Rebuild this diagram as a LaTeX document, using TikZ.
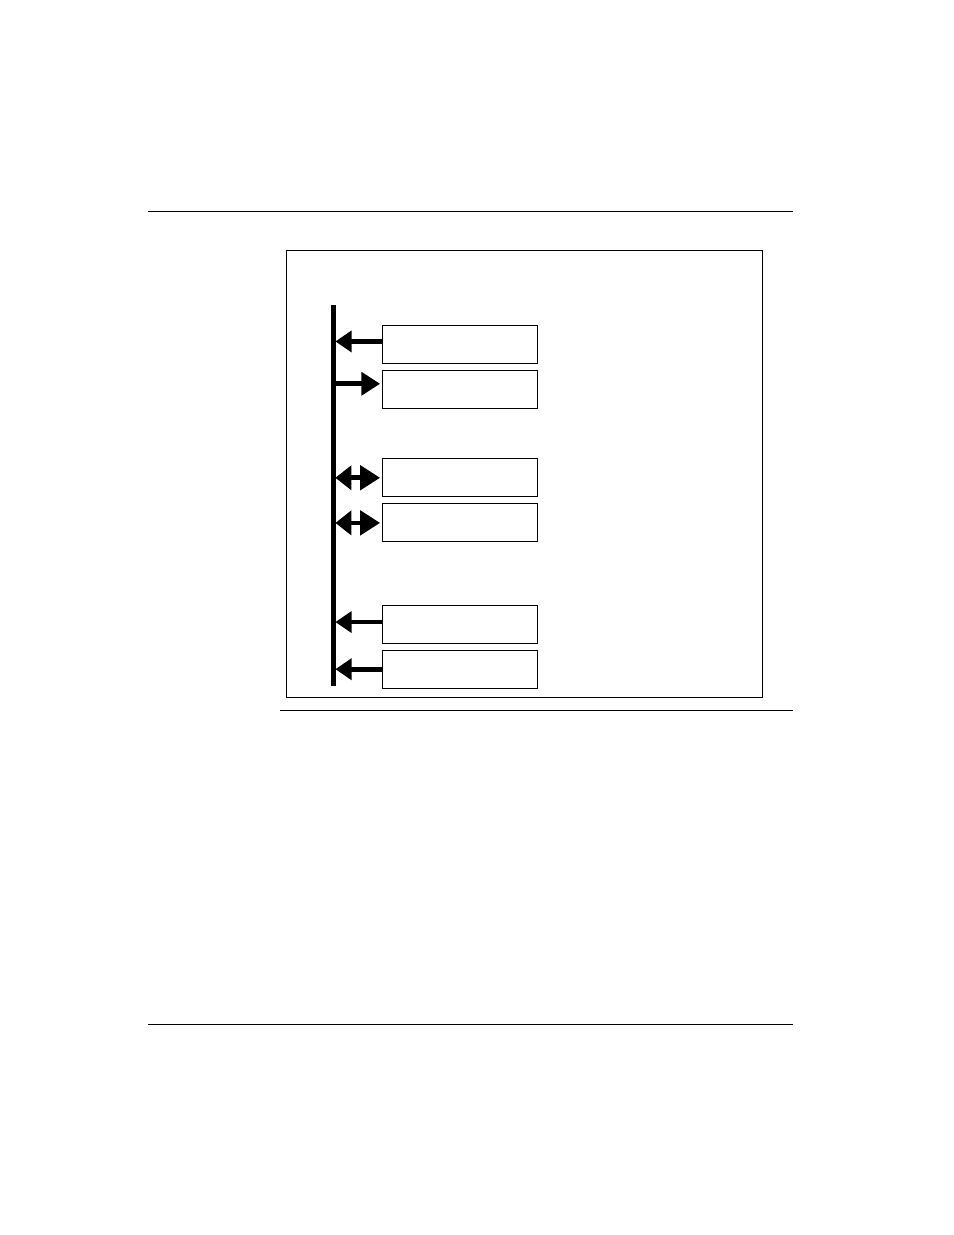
\documentclass[tikz,border=0pt]{standalone}
\usetikzlibrary{arrows.meta,positioning}

\begin{document}
\begin{tikzpicture}
[x=0.6415pt,y=-0.6415pt,
node distance=3.85pt,
%
box/.style={draw=black,line width=0.7pt,minimum width=99.4pt,minimum height=24.4pt,inner sep=0pt},
rule/.style={draw=black,line width=0.7pt},
bus/.style={line width=2.7pt},
%
inlink/.style={line width=3pt,-{Triangle[length=10.5pt,width=13.5pt]},shorten >=1.2pt},
outlink/.style={line width=3pt,-{Triangle[length=12pt,width=14.5pt]},shorten >=1.2pt},
dlink/.style={line width=3pt,{Triangle[length=10.3pt,width=15.4pt]}-{Triangle[length=12.8pt,width=15.4pt]},shorten >=1.2pt,shorten <=1.2pt}]
%
\useasboundingbox (0,0) rectangle (954,1235);
% page rules and frame
\draw[rule] (148,211.5) -- (793,211.5);
\draw[rule] (280,710.5) -- (793,710.5);
\draw[rule] (148,1024.5) -- (793,1024.5);
\draw[line width=0.7pt] (286.5,250.5) rectangle (762.5,697.5);
% bus
\coordinate (bustop) at (333.5,305);
\coordinate (busbot) at (333.5,686);
\draw[bus] (bustop) -- (busbot);
% boxes
\node (b1) [box,anchor=north west] at (382,325) {};
\node (b2) [box,below=of b1] {};
\node (b3) [box,below=31.4pt of b2] {};
\node (b4) [box,below=of b3] {};
\node (b5) [box,below=39.8pt of b4] {};
\node (b6) [box,below=of b5] {};
% arrows
\draw[inlink] ([yshift=2pt]b1.west) -- ([yshift=2pt]b1.west -| busbot);
\draw[outlink] ([yshift=3.8pt]b2.west -| busbot) -- ([yshift=3.8pt]b2.west);
\draw[dlink] (b3.west -| busbot) -- (b3.west);
\draw[dlink] (b4.west -| busbot) -- (b4.west);
\draw[inlink] ([yshift=1.3pt]b5.west) -- ([yshift=1.3pt]b5.west -| busbot);
\draw[inlink] (b6.west) -- (b6.west -| busbot);
\end{tikzpicture}
\end{document}
